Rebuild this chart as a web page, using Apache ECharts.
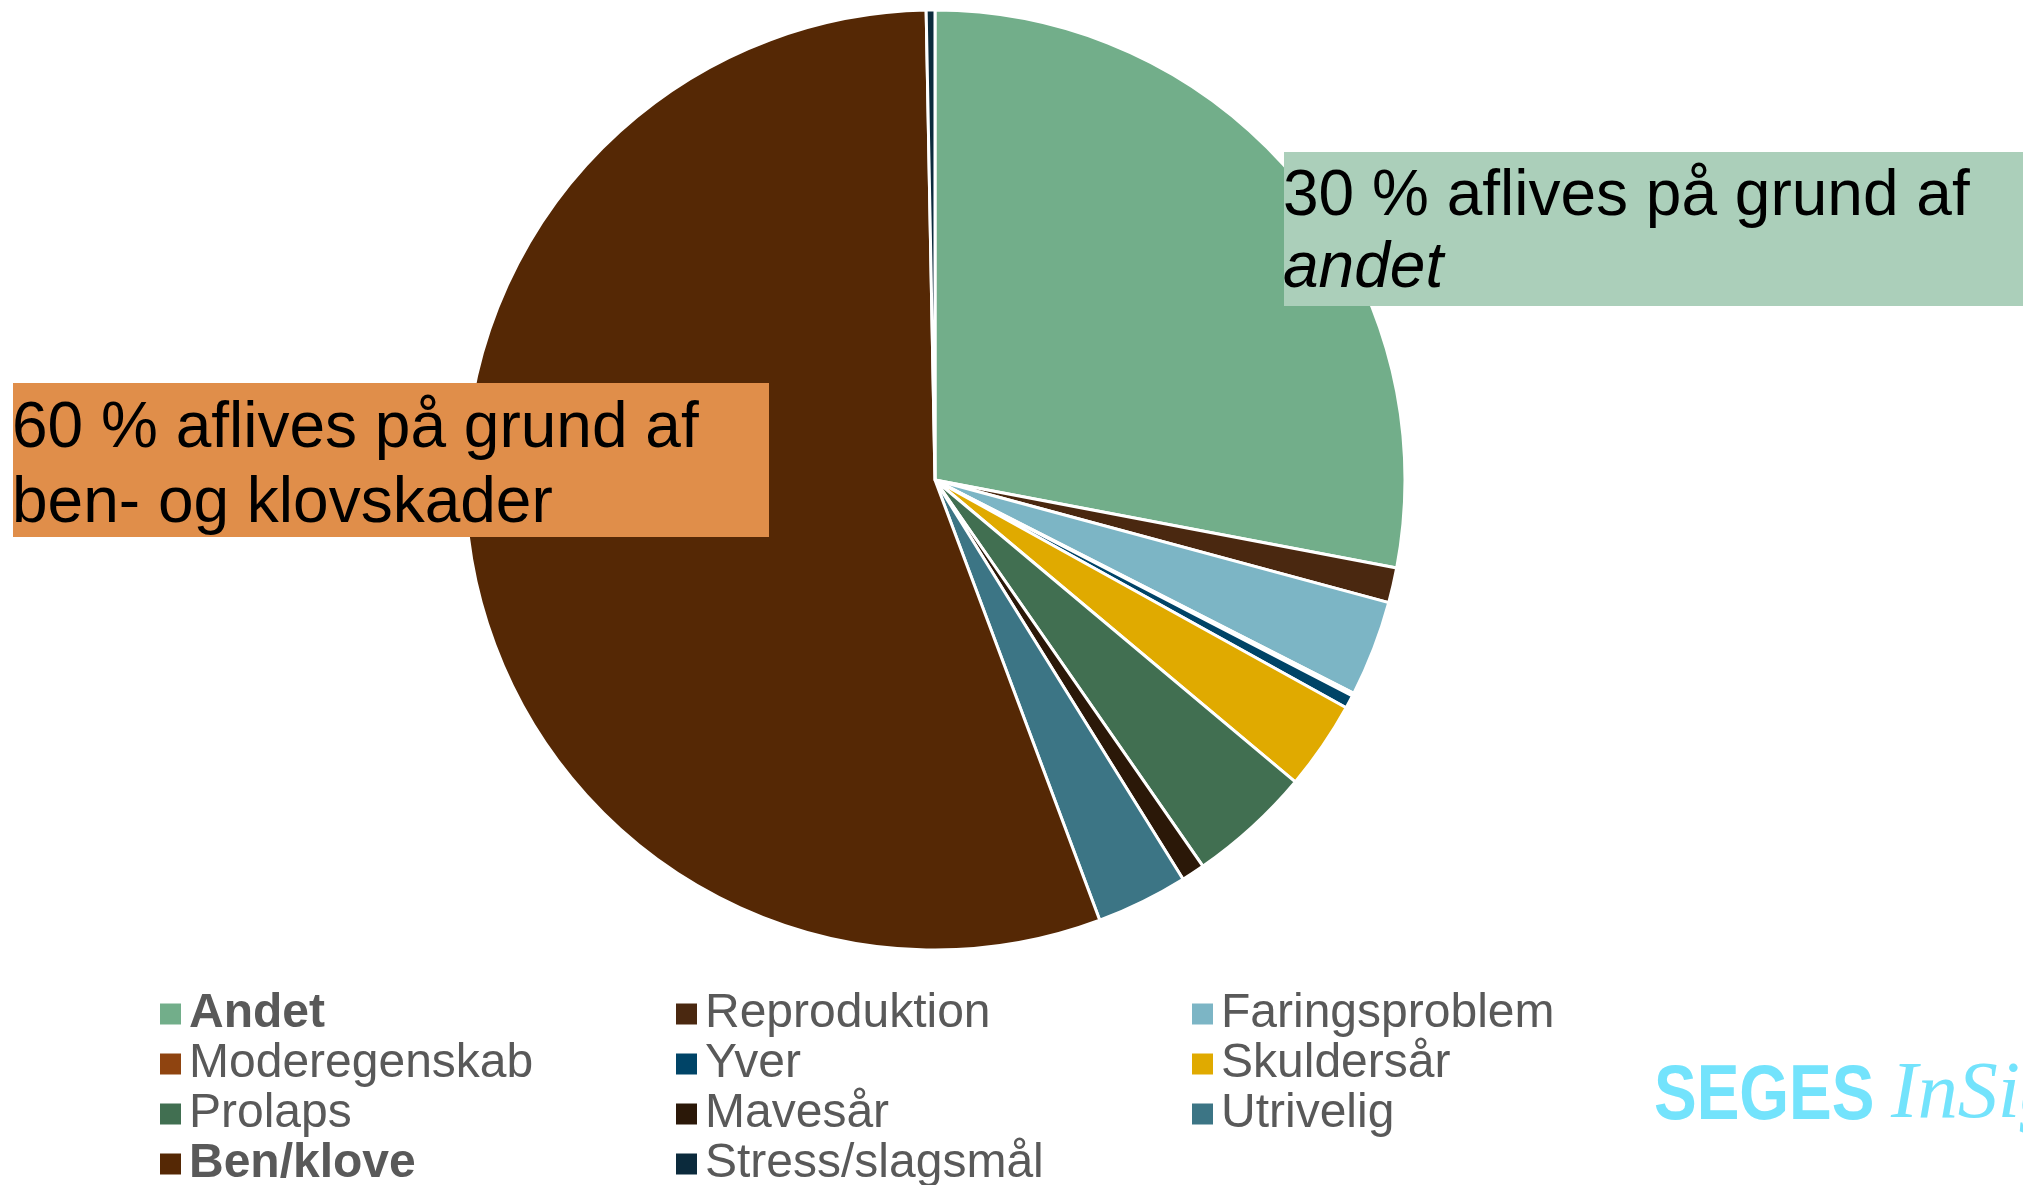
<!DOCTYPE html>
<html>
<head>
<meta charset="utf-8">
<script src="https://cdn.jsdelivr.net/npm/echarts@6/dist/echarts.min.js"></script>
<style>
  html, body { margin: 0; padding: 0; background: #fff; }
  #chart { width: 2023px; height: 1185px; }
</style>
</head>
<body>
<div id="chart"></div>
<script>
// causes, in chart order (clockwise from 12 o'clock)
const categories = ['Andet', 'Reproduktion', 'Faringsproblem', 'Moderegenskab', 'Yver',
  'Skuldersår', 'Prolaps', 'Mavesår', 'Utrivelig', 'Ben/klove', 'Stress/slagsmål']
const shares = [28.0, 1.2, 3.3, 0.1, 0.45, 3.05, 4.25, 0.8, 3.15, 55.4, 0.3]
const colors = ['#72ae8a', '#4a2810', '#7cb5c5', '#8f4410', '#004467',
  '#e0aa00', '#416f51', '#2b1808', '#3c7585', '#552805', '#0b2a3c']
const boldItems = ['Andet', 'Ben/klove']

// legend columns (read row by row in the reference)
const legendCols = [
  ['Andet', 'Moderegenskab', 'Prolaps', 'Ben/klove'],
  ['Reproduktion', 'Yver', 'Mavesår', 'Stress/slagsmål'],
  ['Faringsproblem', 'Skuldersår', 'Utrivelig'],
]
const legendLeft = [153, 669, 1185]

const chart = echarts.init(document.getElementById('chart'))

const legends = legendCols.map((names, i) => ({
  orient: 'vertical',
  left: legendLeft[i],
  top: 984,
  height: 260,
  itemWidth: 23,
  itemHeight: 23,
  itemGap: 0,
  icon: 'rect',
  selectedMode: false,
  textStyle: {
    color: '#595959',
    fontFamily: 'Liberation Sans, Arial, sans-serif',
    fontSize: 48,
    lineHeight: 50,
    padding: [0, 0, 0, 2],
  },
  data: names.map((n) => ({
    name: n,
    textStyle: boldItems.includes(n) ? { fontWeight: 'bold' } : {},
  })),
}))

chart.setOption({
  animation: false,
  color: colors,
  legend: legends,
  series: [{
    type: 'pie',
    center: [935, 480],
    radius: 470,
    startAngle: 90,
    clockwise: true,
    z: 1,
    label: { show: false },
    labelLine: { show: false },
    emphasis: { disabled: true },
    itemStyle: { borderColor: '#fff', borderWidth: 3 },
    data: categories.map((c, i) => ({ name: c, value: shares[i] })),
  }],
  graphic: [
    {
      type: 'rect', z: 100,
      shape: { x: 1284, y: 152, width: 760, height: 154 },
      style: { fill: '#abcfba' },
    },
    {
      type: 'text', z: 101,
      x: 1283, y: 161,
      style: {
        text: '30 % aflives på grund af\n{i|andet}',
        fill: '#000',
        font: '64px "Liberation Sans", Arial, sans-serif',
        lineHeight: 72,
        rich: {
          i: { fontStyle: 'italic', fontSize: 64, lineHeight: 72, fill: '#000',
               fontFamily: 'Liberation Sans, Arial, sans-serif' },
        },
      },
    },
    {
      type: 'rect', z: 100,
      shape: { x: 13, y: 383, width: 756, height: 154 },
      style: { fill: '#e08e4a' },
    },
    {
      type: 'text', z: 101,
      x: 12, y: 392,
      style: {
        text: '60 % aflives på grund af\nben- og klovskader',
        fill: '#000',
        font: '64px "Liberation Sans", Arial, sans-serif',
        lineHeight: 75,
      },
    },
    {
      type: 'text', z: 101,
      x: 1654, y: 1058,
      scaleX: 0.82,
      style: {
        text: 'SEGES',
        fill: '#73e3fc',
        font: 'bold 78px "Liberation Sans", Arial, sans-serif',
      },
    },
    {
      type: 'text', z: 101,
      x: 1891, y: 1056,
      style: {
        text: 'InSight',
        fill: '#73e3fc',
        font: 'italic 80px "Liberation Serif", serif',
      },
    },
  ],
})
</script>
</body>
</html>
